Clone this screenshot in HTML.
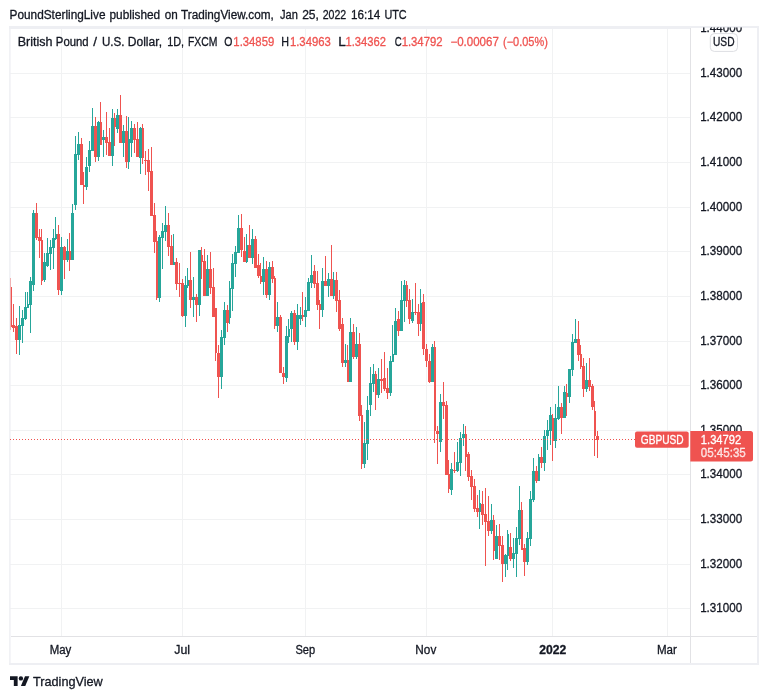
<!DOCTYPE html>
<html lang="en"><head><meta charset="utf-8"><title>GBPUSD chart</title>
<style>html,body{margin:0;padding:0;background:#fff}body{width:768px;height:699px;overflow:hidden}text{white-space:pre;font-family:"Liberation Sans",sans-serif;paint-order:stroke;stroke-width:0.3px;stroke-linejoin:round}</style>
</head><body>
<svg width="768" height="699" viewBox="0 0 768 699" style="display:block">
<rect width="768" height="699" fill="#fff"/>
<g fill="#f1f2f3" shape-rendering="crispEdges"><rect x="61" y="28" width="1" height="608"/><rect x="182" y="28" width="1" height="608"/><rect x="305" y="28" width="1" height="608"/><rect x="426" y="28" width="1" height="608"/><rect x="552" y="28" width="1" height="608"/><rect x="667" y="28" width="1" height="608"/><rect x="10" y="73" width="681" height="1"/><rect x="10" y="117" width="681" height="1"/><rect x="10" y="162" width="681" height="1"/><rect x="10" y="207" width="681" height="1"/><rect x="10" y="251" width="681" height="1"/><rect x="10" y="296" width="681" height="1"/><rect x="10" y="341" width="681" height="1"/><rect x="10" y="385" width="681" height="1"/><rect x="10" y="430" width="681" height="1"/><rect x="10" y="474" width="681" height="1"/><rect x="10" y="519" width="681" height="1"/><rect x="10" y="564" width="681" height="1"/><rect x="10" y="608" width="681" height="1"/></g>
<clipPath id="cc"><rect x="10" y="29" width="680" height="607"/></clipPath><g clip-path="url(#cc)"><g fill="#ef5350" shape-rendering="crispEdges"><rect x="10" y="278" width="1" height="9"/><rect x="10" y="327" width="1" height="3"/><rect x="9" y="287" width="3" height="40"/><rect x="13" y="304" width="1" height="21"/><rect x="13" y="328" width="1" height="4"/><rect x="12" y="325" width="3" height="3"/><rect x="16" y="318" width="1" height="8"/><rect x="16" y="340" width="1" height="14"/><rect x="15" y="326" width="3" height="14"/><rect x="36" y="203" width="1" height="10"/><rect x="36" y="238" width="1" height="2"/><rect x="35" y="213" width="3" height="25"/><rect x="39" y="229" width="1" height="8"/><rect x="39" y="241" width="1" height="17"/><rect x="38" y="237" width="3" height="4"/><rect x="41" y="229" width="1" height="11"/><rect x="41" y="281" width="1" height="4"/><rect x="41" y="240" width="2" height="41"/><rect x="58" y="225" width="1" height="9"/><rect x="58" y="290" width="1" height="5"/><rect x="57" y="234" width="3" height="56"/><rect x="64" y="246" width="1" height="1"/><rect x="64" y="260" width="1" height="19"/><rect x="63" y="247" width="3" height="13"/><rect x="69" y="233" width="1" height="18"/><rect x="69" y="260" width="1" height="11"/><rect x="69" y="251" width="2" height="9"/><rect x="81" y="138" width="1" height="6"/><rect x="80" y="144" width="3" height="41"/><rect x="83" y="172" width="1" height="13"/><rect x="83" y="187" width="1" height="17"/><rect x="83" y="185" width="2" height="2"/><rect x="95" y="117" width="1" height="9"/><rect x="95" y="157" width="1" height="5"/><rect x="94" y="126" width="3" height="31"/><rect x="100" y="102" width="1" height="20"/><rect x="100" y="122" width="2" height="23"/><rect x="106" y="112" width="1" height="25"/><rect x="106" y="143" width="1" height="12"/><rect x="105" y="137" width="3" height="6"/><rect x="109" y="128" width="1" height="14"/><rect x="108" y="142" width="3" height="14"/><rect x="114" y="113" width="1" height="5"/><rect x="114" y="127" width="1" height="19"/><rect x="114" y="118" width="2" height="9"/><rect x="120" y="95" width="1" height="20"/><rect x="119" y="115" width="3" height="28"/><rect x="126" y="116" width="1" height="15"/><rect x="126" y="162" width="1" height="6"/><rect x="125" y="131" width="3" height="31"/><rect x="134" y="124" width="1" height="4"/><rect x="134" y="140" width="1" height="13"/><rect x="133" y="128" width="3" height="12"/><rect x="137" y="122" width="1" height="17"/><rect x="136" y="139" width="3" height="18"/><rect x="142" y="124" width="1" height="4"/><rect x="142" y="158" width="1" height="6"/><rect x="142" y="128" width="2" height="30"/><rect x="145" y="151" width="1" height="9"/><rect x="145" y="161" width="1" height="14"/><rect x="144" y="160" width="3" height="1"/><rect x="148" y="149" width="1" height="11"/><rect x="148" y="172" width="1" height="19"/><rect x="147" y="160" width="3" height="12"/><rect x="151" y="147" width="1" height="24"/><rect x="150" y="171" width="3" height="45"/><rect x="154" y="203" width="1" height="12"/><rect x="154" y="242" width="1" height="11"/><rect x="153" y="215" width="3" height="27"/><rect x="156" y="231" width="1" height="10"/><rect x="156" y="298" width="1" height="2"/><rect x="156" y="241" width="2" height="57"/><rect x="168" y="213" width="1" height="12"/><rect x="168" y="247" width="1" height="9"/><rect x="167" y="225" width="3" height="22"/><rect x="171" y="235" width="1" height="11"/><rect x="170" y="246" width="3" height="19"/><rect x="176" y="258" width="1" height="4"/><rect x="176" y="284" width="1" height="6"/><rect x="175" y="262" width="3" height="22"/><rect x="179" y="263" width="1" height="20"/><rect x="179" y="284" width="1" height="13"/><rect x="178" y="283" width="3" height="1"/><rect x="182" y="279" width="1" height="4"/><rect x="182" y="316" width="1" height="1"/><rect x="181" y="283" width="3" height="33"/><rect x="190" y="252" width="1" height="28"/><rect x="190" y="300" width="1" height="8"/><rect x="189" y="280" width="3" height="20"/><rect x="196" y="294" width="1" height="3"/><rect x="196" y="305" width="1" height="17"/><rect x="195" y="297" width="3" height="8"/><rect x="201" y="247" width="1" height="8"/><rect x="201" y="262" width="1" height="17"/><rect x="201" y="255" width="2" height="7"/><rect x="204" y="249" width="1" height="12"/><rect x="203" y="261" width="3" height="35"/><rect x="210" y="252" width="1" height="17"/><rect x="210" y="288" width="1" height="6"/><rect x="209" y="269" width="3" height="19"/><rect x="213" y="268" width="1" height="19"/><rect x="212" y="287" width="3" height="30"/><rect x="215" y="353" width="1" height="8"/><rect x="215" y="308" width="2" height="45"/><rect x="218" y="345" width="1" height="8"/><rect x="218" y="377" width="1" height="21"/><rect x="217" y="353" width="3" height="24"/><rect x="227" y="305" width="1" height="5"/><rect x="227" y="323" width="1" height="9"/><rect x="226" y="310" width="3" height="13"/><rect x="241" y="214" width="1" height="14"/><rect x="241" y="250" width="1" height="7"/><rect x="240" y="228" width="3" height="22"/><rect x="244" y="237" width="1" height="14"/><rect x="243" y="251" width="3" height="11"/><rect x="249" y="225" width="1" height="20"/><rect x="248" y="245" width="3" height="13"/><rect x="255" y="236" width="1" height="3"/><rect x="254" y="239" width="3" height="29"/><rect x="258" y="254" width="1" height="11"/><rect x="258" y="276" width="1" height="2"/><rect x="257" y="265" width="3" height="11"/><rect x="260" y="263" width="1" height="13"/><rect x="260" y="282" width="1" height="2"/><rect x="260" y="276" width="2" height="6"/><rect x="266" y="261" width="1" height="8"/><rect x="266" y="295" width="1" height="3"/><rect x="265" y="269" width="3" height="26"/><rect x="272" y="261" width="1" height="6"/><rect x="272" y="279" width="1" height="4"/><rect x="271" y="267" width="3" height="12"/><rect x="274" y="276" width="1" height="2"/><rect x="274" y="326" width="1" height="3"/><rect x="274" y="278" width="2" height="48"/><rect x="280" y="315" width="1" height="2"/><rect x="279" y="317" width="3" height="56"/><rect x="283" y="367" width="1" height="6"/><rect x="283" y="377" width="1" height="7"/><rect x="282" y="373" width="3" height="4"/><rect x="294" y="310" width="1" height="3"/><rect x="294" y="342" width="1" height="3"/><rect x="293" y="313" width="3" height="29"/><rect x="302" y="292" width="1" height="23"/><rect x="302" y="317" width="1" height="4"/><rect x="302" y="315" width="2" height="2"/><rect x="314" y="265" width="1" height="6"/><rect x="314" y="284" width="1" height="4"/><rect x="313" y="271" width="3" height="13"/><rect x="317" y="271" width="1" height="12"/><rect x="317" y="305" width="1" height="5"/><rect x="316" y="283" width="3" height="22"/><rect x="319" y="300" width="1" height="4"/><rect x="319" y="310" width="1" height="19"/><rect x="319" y="304" width="2" height="6"/><rect x="325" y="256" width="1" height="25"/><rect x="324" y="281" width="3" height="5"/><rect x="331" y="245" width="1" height="34"/><rect x="330" y="279" width="3" height="17"/><rect x="336" y="272" width="1" height="8"/><rect x="336" y="301" width="1" height="11"/><rect x="335" y="280" width="3" height="21"/><rect x="339" y="290" width="1" height="10"/><rect x="339" y="329" width="1" height="2"/><rect x="338" y="300" width="3" height="29"/><rect x="342" y="318" width="1" height="6"/><rect x="342" y="363" width="1" height="4"/><rect x="341" y="324" width="3" height="39"/><rect x="347" y="345" width="1" height="15"/><rect x="347" y="360" width="2" height="22"/><rect x="353" y="324" width="1" height="8"/><rect x="353" y="357" width="1" height="2"/><rect x="352" y="332" width="3" height="25"/><rect x="359" y="333" width="1" height="11"/><rect x="359" y="416" width="1" height="5"/><rect x="358" y="344" width="3" height="72"/><rect x="361" y="405" width="1" height="10"/><rect x="361" y="464" width="1" height="5"/><rect x="361" y="415" width="2" height="49"/><rect x="375" y="371" width="1" height="3"/><rect x="375" y="395" width="1" height="15"/><rect x="375" y="374" width="2" height="21"/><rect x="381" y="359" width="1" height="20"/><rect x="381" y="381" width="1" height="12"/><rect x="380" y="379" width="3" height="2"/><rect x="384" y="352" width="1" height="26"/><rect x="384" y="389" width="1" height="2"/><rect x="383" y="378" width="3" height="11"/><rect x="387" y="368" width="1" height="20"/><rect x="387" y="393" width="1" height="6"/><rect x="386" y="388" width="3" height="5"/><rect x="398" y="311" width="1" height="8"/><rect x="398" y="331" width="1" height="5"/><rect x="397" y="319" width="3" height="12"/><rect x="406" y="281" width="1" height="4"/><rect x="406" y="301" width="1" height="6"/><rect x="406" y="285" width="2" height="16"/><rect x="409" y="289" width="1" height="11"/><rect x="409" y="319" width="1" height="5"/><rect x="408" y="300" width="3" height="19"/><rect x="415" y="283" width="1" height="29"/><rect x="415" y="313" width="1" height="2"/><rect x="414" y="312" width="3" height="1"/><rect x="418" y="304" width="1" height="8"/><rect x="418" y="324" width="1" height="12"/><rect x="417" y="312" width="3" height="12"/><rect x="423" y="294" width="1" height="8"/><rect x="423" y="349" width="1" height="6"/><rect x="422" y="302" width="3" height="47"/><rect x="426" y="344" width="1" height="5"/><rect x="426" y="361" width="1" height="6"/><rect x="425" y="349" width="3" height="12"/><rect x="429" y="354" width="1" height="7"/><rect x="429" y="382" width="1" height="1"/><rect x="428" y="361" width="3" height="21"/><rect x="434" y="341" width="1" height="6"/><rect x="434" y="431" width="1" height="12"/><rect x="434" y="347" width="2" height="84"/><rect x="437" y="426" width="1" height="5"/><rect x="437" y="434" width="1" height="30"/><rect x="436" y="431" width="3" height="3"/><rect x="443" y="382" width="1" height="20"/><rect x="443" y="406" width="1" height="13"/><rect x="442" y="402" width="3" height="4"/><rect x="446" y="401" width="1" height="4"/><rect x="445" y="405" width="3" height="70"/><rect x="448" y="460" width="1" height="14"/><rect x="448" y="489" width="1" height="4"/><rect x="448" y="474" width="2" height="15"/><rect x="454" y="452" width="1" height="18"/><rect x="454" y="471" width="1" height="2"/><rect x="453" y="470" width="3" height="1"/><rect x="465" y="426" width="1" height="8"/><rect x="465" y="457" width="1" height="14"/><rect x="465" y="434" width="2" height="23"/><rect x="468" y="452" width="1" height="2"/><rect x="468" y="477" width="1" height="4"/><rect x="467" y="454" width="3" height="23"/><rect x="471" y="470" width="1" height="6"/><rect x="471" y="487" width="1" height="13"/><rect x="470" y="476" width="3" height="11"/><rect x="474" y="479" width="1" height="7"/><rect x="474" y="509" width="1" height="3"/><rect x="473" y="486" width="3" height="23"/><rect x="477" y="495" width="1" height="13"/><rect x="477" y="512" width="1" height="5"/><rect x="476" y="508" width="3" height="4"/><rect x="482" y="491" width="1" height="13"/><rect x="482" y="515" width="1" height="10"/><rect x="481" y="504" width="3" height="11"/><rect x="485" y="488" width="1" height="26"/><rect x="485" y="522" width="1" height="44"/><rect x="484" y="514" width="3" height="8"/><rect x="488" y="496" width="1" height="25"/><rect x="488" y="531" width="1" height="5"/><rect x="487" y="521" width="3" height="10"/><rect x="493" y="515" width="1" height="5"/><rect x="493" y="551" width="1" height="9"/><rect x="493" y="520" width="2" height="31"/><rect x="499" y="524" width="1" height="12"/><rect x="499" y="546" width="1" height="14"/><rect x="498" y="536" width="3" height="10"/><rect x="502" y="536" width="1" height="9"/><rect x="502" y="564" width="1" height="18"/><rect x="501" y="545" width="3" height="19"/><rect x="510" y="533" width="1" height="14"/><rect x="510" y="559" width="1" height="2"/><rect x="509" y="547" width="3" height="12"/><rect x="521" y="502" width="1" height="8"/><rect x="521" y="510" width="2" height="40"/><rect x="524" y="544" width="1" height="4"/><rect x="524" y="562" width="1" height="14"/><rect x="523" y="548" width="3" height="14"/><rect x="536" y="466" width="1" height="5"/><rect x="536" y="481" width="1" height="2"/><rect x="535" y="471" width="3" height="10"/><rect x="541" y="447" width="1" height="10"/><rect x="541" y="463" width="1" height="5"/><rect x="540" y="457" width="3" height="6"/><rect x="552" y="414" width="1" height="4"/><rect x="552" y="441" width="1" height="20"/><rect x="552" y="418" width="2" height="23"/><rect x="561" y="403" width="1" height="4"/><rect x="561" y="418" width="1" height="16"/><rect x="560" y="407" width="3" height="11"/><rect x="566" y="384" width="1" height="9"/><rect x="566" y="397" width="1" height="19"/><rect x="566" y="393" width="2" height="4"/><rect x="578" y="321" width="1" height="18"/><rect x="578" y="355" width="1" height="6"/><rect x="577" y="339" width="3" height="16"/><rect x="580" y="345" width="1" height="9"/><rect x="580" y="367" width="1" height="2"/><rect x="580" y="354" width="2" height="13"/><rect x="583" y="358" width="1" height="8"/><rect x="583" y="389" width="1" height="8"/><rect x="582" y="366" width="3" height="23"/><rect x="589" y="358" width="1" height="22"/><rect x="589" y="387" width="1" height="4"/><rect x="588" y="380" width="3" height="7"/><rect x="592" y="384" width="1" height="2"/><rect x="592" y="407" width="1" height="3"/><rect x="591" y="386" width="3" height="21"/><rect x="594" y="401" width="1" height="10"/><rect x="594" y="436" width="1" height="20"/><rect x="594" y="411" width="2" height="25"/><rect x="597" y="431" width="1" height="5"/><rect x="597" y="440" width="1" height="18"/><rect x="596" y="436" width="3" height="4"/></g><g fill="#26a69a" shape-rendering="crispEdges"><rect x="19" y="306" width="1" height="19"/><rect x="19" y="340" width="1" height="15"/><rect x="18" y="325" width="3" height="15"/><rect x="22" y="310" width="1" height="8"/><rect x="22" y="326" width="1" height="17"/><rect x="21" y="318" width="3" height="8"/><rect x="25" y="292" width="1" height="15"/><rect x="25" y="319" width="1" height="1"/><rect x="24" y="307" width="3" height="12"/><rect x="27" y="292" width="1" height="12"/><rect x="27" y="304" width="2" height="4"/><rect x="30" y="277" width="1" height="4"/><rect x="30" y="305" width="1" height="28"/><rect x="29" y="281" width="3" height="24"/><rect x="33" y="210" width="1" height="3"/><rect x="33" y="285" width="1" height="6"/><rect x="32" y="213" width="3" height="72"/><rect x="44" y="253" width="1" height="9"/><rect x="44" y="280" width="1" height="2"/><rect x="43" y="262" width="3" height="18"/><rect x="47" y="238" width="1" height="15"/><rect x="47" y="266" width="1" height="1"/><rect x="46" y="253" width="3" height="13"/><rect x="50" y="240" width="1" height="7"/><rect x="50" y="254" width="1" height="16"/><rect x="49" y="247" width="3" height="7"/><rect x="53" y="229" width="1" height="9"/><rect x="53" y="248" width="1" height="21"/><rect x="52" y="238" width="3" height="10"/><rect x="55" y="217" width="1" height="17"/><rect x="55" y="239" width="1" height="1"/><rect x="55" y="234" width="2" height="5"/><rect x="61" y="237" width="1" height="10"/><rect x="61" y="291" width="1" height="4"/><rect x="60" y="247" width="3" height="44"/><rect x="67" y="239" width="1" height="12"/><rect x="67" y="260" width="1" height="2"/><rect x="66" y="251" width="3" height="9"/><rect x="72" y="204" width="1" height="9"/><rect x="71" y="213" width="3" height="47"/><rect x="75" y="136" width="1" height="18"/><rect x="75" y="205" width="1" height="5"/><rect x="74" y="154" width="3" height="51"/><rect x="78" y="132" width="1" height="12"/><rect x="78" y="155" width="1" height="5"/><rect x="77" y="144" width="3" height="11"/><rect x="86" y="157" width="1" height="10"/><rect x="86" y="187" width="1" height="3"/><rect x="85" y="167" width="3" height="20"/><rect x="89" y="141" width="1" height="9"/><rect x="89" y="166" width="1" height="6"/><rect x="88" y="150" width="3" height="16"/><rect x="92" y="108" width="1" height="18"/><rect x="91" y="126" width="3" height="25"/><rect x="98" y="121" width="1" height="1"/><rect x="98" y="157" width="1" height="4"/><rect x="97" y="122" width="3" height="35"/><rect x="103" y="130" width="1" height="7"/><rect x="103" y="140" width="1" height="17"/><rect x="102" y="137" width="3" height="3"/><rect x="112" y="109" width="1" height="9"/><rect x="112" y="156" width="1" height="10"/><rect x="111" y="118" width="3" height="38"/><rect x="117" y="109" width="1" height="6"/><rect x="117" y="129" width="1" height="4"/><rect x="116" y="115" width="3" height="14"/><rect x="123" y="125" width="1" height="6"/><rect x="123" y="143" width="1" height="14"/><rect x="122" y="131" width="3" height="12"/><rect x="128" y="117" width="1" height="22"/><rect x="128" y="162" width="1" height="7"/><rect x="128" y="139" width="2" height="23"/><rect x="131" y="121" width="1" height="7"/><rect x="131" y="143" width="1" height="14"/><rect x="130" y="128" width="3" height="15"/><rect x="140" y="127" width="1" height="1"/><rect x="140" y="158" width="1" height="16"/><rect x="139" y="128" width="3" height="30"/><rect x="159" y="235" width="1" height="2"/><rect x="159" y="298" width="1" height="4"/><rect x="158" y="237" width="3" height="61"/><rect x="162" y="223" width="1" height="8"/><rect x="162" y="238" width="1" height="31"/><rect x="161" y="231" width="3" height="7"/><rect x="165" y="206" width="1" height="19"/><rect x="165" y="232" width="1" height="9"/><rect x="164" y="225" width="3" height="7"/><rect x="173" y="234" width="1" height="28"/><rect x="173" y="262" width="2" height="3"/><rect x="185" y="276" width="1" height="9"/><rect x="185" y="316" width="1" height="11"/><rect x="184" y="285" width="3" height="31"/><rect x="187" y="268" width="1" height="12"/><rect x="187" y="286" width="1" height="2"/><rect x="187" y="280" width="2" height="6"/><rect x="193" y="277" width="1" height="20"/><rect x="193" y="300" width="1" height="17"/><rect x="192" y="297" width="3" height="3"/><rect x="199" y="305" width="1" height="11"/><rect x="198" y="250" width="3" height="55"/><rect x="207" y="255" width="1" height="14"/><rect x="206" y="269" width="3" height="27"/><rect x="221" y="330" width="1" height="7"/><rect x="221" y="377" width="1" height="12"/><rect x="220" y="337" width="3" height="40"/><rect x="224" y="302" width="1" height="8"/><rect x="224" y="338" width="1" height="7"/><rect x="223" y="310" width="3" height="28"/><rect x="229" y="281" width="1" height="7"/><rect x="229" y="318" width="1" height="6"/><rect x="229" y="288" width="2" height="30"/><rect x="232" y="254" width="1" height="9"/><rect x="232" y="289" width="1" height="22"/><rect x="231" y="263" width="3" height="26"/><rect x="235" y="246" width="1" height="6"/><rect x="235" y="264" width="1" height="13"/><rect x="234" y="252" width="3" height="12"/><rect x="238" y="215" width="1" height="13"/><rect x="237" y="228" width="3" height="25"/><rect x="246" y="234" width="1" height="11"/><rect x="246" y="262" width="1" height="1"/><rect x="246" y="245" width="2" height="17"/><rect x="252" y="229" width="1" height="10"/><rect x="252" y="258" width="1" height="6"/><rect x="251" y="239" width="3" height="19"/><rect x="263" y="257" width="1" height="12"/><rect x="263" y="282" width="1" height="13"/><rect x="262" y="269" width="3" height="13"/><rect x="269" y="262" width="1" height="5"/><rect x="269" y="295" width="1" height="5"/><rect x="268" y="267" width="3" height="28"/><rect x="277" y="302" width="1" height="15"/><rect x="277" y="326" width="1" height="6"/><rect x="276" y="317" width="3" height="9"/><rect x="286" y="326" width="1" height="10"/><rect x="286" y="378" width="1" height="4"/><rect x="285" y="336" width="3" height="42"/><rect x="288" y="319" width="1" height="10"/><rect x="288" y="337" width="1" height="6"/><rect x="288" y="329" width="2" height="8"/><rect x="291" y="311" width="1" height="2"/><rect x="291" y="329" width="1" height="13"/><rect x="290" y="313" width="3" height="16"/><rect x="297" y="304" width="1" height="11"/><rect x="297" y="342" width="1" height="8"/><rect x="296" y="315" width="3" height="27"/><rect x="300" y="307" width="1" height="8"/><rect x="300" y="319" width="1" height="6"/><rect x="299" y="315" width="3" height="4"/><rect x="305" y="297" width="1" height="13"/><rect x="305" y="317" width="1" height="10"/><rect x="304" y="310" width="3" height="7"/><rect x="308" y="278" width="1" height="4"/><rect x="307" y="282" width="3" height="29"/><rect x="311" y="255" width="1" height="20"/><rect x="311" y="283" width="1" height="5"/><rect x="310" y="275" width="3" height="8"/><rect x="322" y="268" width="1" height="13"/><rect x="322" y="310" width="1" height="7"/><rect x="321" y="281" width="3" height="29"/><rect x="328" y="273" width="1" height="6"/><rect x="328" y="286" width="1" height="11"/><rect x="327" y="279" width="3" height="7"/><rect x="333" y="272" width="1" height="8"/><rect x="333" y="296" width="1" height="3"/><rect x="333" y="280" width="2" height="16"/><rect x="345" y="344" width="1" height="16"/><rect x="345" y="363" width="1" height="4"/><rect x="344" y="360" width="3" height="3"/><rect x="350" y="318" width="1" height="14"/><rect x="349" y="332" width="3" height="50"/><rect x="356" y="327" width="1" height="17"/><rect x="356" y="357" width="1" height="2"/><rect x="355" y="344" width="3" height="13"/><rect x="364" y="422" width="1" height="21"/><rect x="364" y="464" width="1" height="4"/><rect x="363" y="443" width="3" height="21"/><rect x="367" y="396" width="1" height="14"/><rect x="367" y="444" width="1" height="16"/><rect x="366" y="410" width="3" height="34"/><rect x="370" y="367" width="1" height="16"/><rect x="370" y="405" width="1" height="11"/><rect x="369" y="383" width="3" height="22"/><rect x="373" y="364" width="1" height="10"/><rect x="373" y="384" width="1" height="8"/><rect x="372" y="374" width="3" height="10"/><rect x="378" y="368" width="1" height="11"/><rect x="378" y="395" width="1" height="3"/><rect x="377" y="379" width="3" height="16"/><rect x="390" y="356" width="1" height="5"/><rect x="390" y="393" width="1" height="3"/><rect x="389" y="361" width="3" height="32"/><rect x="392" y="325" width="1" height="29"/><rect x="392" y="354" width="2" height="8"/><rect x="395" y="308" width="1" height="13"/><rect x="394" y="321" width="3" height="34"/><rect x="401" y="281" width="1" height="19"/><rect x="400" y="300" width="3" height="31"/><rect x="404" y="280" width="1" height="5"/><rect x="404" y="301" width="1" height="21"/><rect x="403" y="285" width="3" height="16"/><rect x="412" y="299" width="1" height="13"/><rect x="412" y="321" width="1" height="2"/><rect x="411" y="312" width="3" height="9"/><rect x="420" y="289" width="1" height="14"/><rect x="420" y="324" width="1" height="7"/><rect x="420" y="303" width="2" height="21"/><rect x="432" y="344" width="1" height="3"/><rect x="431" y="347" width="3" height="35"/><rect x="440" y="394" width="1" height="8"/><rect x="440" y="442" width="1" height="10"/><rect x="439" y="402" width="3" height="40"/><rect x="451" y="463" width="1" height="6"/><rect x="451" y="490" width="1" height="5"/><rect x="450" y="469" width="3" height="21"/><rect x="457" y="442" width="1" height="20"/><rect x="457" y="471" width="1" height="1"/><rect x="456" y="462" width="3" height="9"/><rect x="460" y="432" width="1" height="6"/><rect x="460" y="463" width="1" height="13"/><rect x="459" y="438" width="3" height="25"/><rect x="463" y="424" width="1" height="10"/><rect x="463" y="438" width="1" height="8"/><rect x="462" y="434" width="3" height="4"/><rect x="479" y="490" width="1" height="13"/><rect x="479" y="512" width="1" height="17"/><rect x="479" y="503" width="2" height="9"/><rect x="491" y="504" width="1" height="16"/><rect x="491" y="531" width="1" height="3"/><rect x="490" y="520" width="3" height="11"/><rect x="496" y="525" width="1" height="11"/><rect x="495" y="536" width="3" height="23"/><rect x="505" y="554" width="1" height="1"/><rect x="505" y="564" width="1" height="13"/><rect x="504" y="555" width="3" height="9"/><rect x="507" y="530" width="1" height="4"/><rect x="507" y="556" width="1" height="14"/><rect x="507" y="534" width="2" height="22"/><rect x="513" y="538" width="1" height="15"/><rect x="513" y="559" width="1" height="9"/><rect x="512" y="553" width="3" height="6"/><rect x="516" y="527" width="1" height="11"/><rect x="516" y="554" width="1" height="23"/><rect x="515" y="538" width="3" height="16"/><rect x="519" y="486" width="1" height="24"/><rect x="519" y="539" width="1" height="6"/><rect x="518" y="510" width="3" height="29"/><rect x="527" y="532" width="1" height="6"/><rect x="527" y="562" width="1" height="3"/><rect x="526" y="538" width="3" height="24"/><rect x="530" y="491" width="1" height="8"/><rect x="530" y="539" width="1" height="7"/><rect x="529" y="499" width="3" height="40"/><rect x="533" y="458" width="1" height="13"/><rect x="533" y="500" width="1" height="2"/><rect x="532" y="471" width="3" height="29"/><rect x="538" y="454" width="1" height="3"/><rect x="538" y="457" width="2" height="24"/><rect x="544" y="430" width="1" height="6"/><rect x="544" y="463" width="1" height="8"/><rect x="543" y="436" width="3" height="27"/><rect x="547" y="420" width="1" height="10"/><rect x="547" y="436" width="1" height="14"/><rect x="546" y="430" width="3" height="6"/><rect x="550" y="407" width="1" height="8"/><rect x="550" y="431" width="1" height="14"/><rect x="549" y="415" width="3" height="16"/><rect x="555" y="404" width="1" height="14"/><rect x="555" y="441" width="1" height="7"/><rect x="554" y="418" width="3" height="23"/><rect x="558" y="386" width="1" height="21"/><rect x="558" y="419" width="1" height="1"/><rect x="557" y="407" width="3" height="12"/><rect x="564" y="386" width="1" height="6"/><rect x="563" y="392" width="3" height="26"/><rect x="569" y="397" width="1" height="6"/><rect x="568" y="369" width="3" height="28"/><rect x="572" y="334" width="1" height="8"/><rect x="572" y="370" width="1" height="6"/><rect x="571" y="342" width="3" height="28"/><rect x="575" y="319" width="1" height="20"/><rect x="574" y="339" width="3" height="4"/><rect x="586" y="363" width="1" height="17"/><rect x="586" y="389" width="1" height="3"/><rect x="585" y="380" width="3" height="9"/></g></g>
<g fill="#eeeff3" shape-rendering="crispEdges"><rect x="9" y="26" width="750" height="2"/><rect x="9" y="28" width="681" height="1"/><rect x="9" y="663" width="750" height="2"/><rect x="757" y="26" width="2" height="639"/></g><rect x="9.2" y="26" width="1.4" height="639" fill="#eeeff3"/><g fill="#e2e2e5" shape-rendering="crispEdges"><rect x="690" y="28" width="1" height="635"/><rect x="11" y="636" width="746" height="1"/></g>
<text y="18.6" font-size="12"><tspan x="9.6" textLength="95.87" lengthAdjust="spacingAndGlyphs" fill="#131722" stroke="#131722">PoundSterlingLive</tspan> <tspan x="109.52" textLength="50.65" lengthAdjust="spacingAndGlyphs" fill="#131722" stroke="#131722">published</tspan> <tspan x="164.8" textLength="13.02" lengthAdjust="spacingAndGlyphs" fill="#131722" stroke="#131722">on</tspan> <tspan x="181.0" textLength="92.73" lengthAdjust="spacingAndGlyphs" fill="#131722" stroke="#131722">TradingView.com,</tspan> <tspan x="280.0" textLength="17.82" lengthAdjust="spacingAndGlyphs" fill="#131722" stroke="#131722">Jan</tspan> <tspan x="302.17" textLength="16.75" lengthAdjust="spacingAndGlyphs" fill="#131722" stroke="#131722">25,</tspan> <tspan x="322.7" textLength="23.55" lengthAdjust="spacingAndGlyphs" fill="#131722" stroke="#131722">2022</tspan> <tspan x="350.96" textLength="29.19" lengthAdjust="spacingAndGlyphs" fill="#131722" stroke="#131722">16:14</tspan> <tspan x="384.39" textLength="22.36" lengthAdjust="spacingAndGlyphs" fill="#131722" stroke="#131722">UTC</tspan></text>
<text y="46" font-size="12"><tspan x="17.71" textLength="34.77" lengthAdjust="spacingAndGlyphs" fill="#131722" stroke="#131722">British</tspan> <tspan x="55.83" textLength="32.81" lengthAdjust="spacingAndGlyphs" fill="#131722" stroke="#131722">Pound</tspan> <tspan x="93.2" textLength="3.74" lengthAdjust="spacingAndGlyphs" fill="#131722" stroke="#131722">/</tspan> <tspan x="101.96" textLength="22.57" lengthAdjust="spacingAndGlyphs" fill="#131722" stroke="#131722">U.S.</tspan> <tspan x="127.76" textLength="34.24" lengthAdjust="spacingAndGlyphs" fill="#131722" stroke="#131722">Dollar,</tspan> <tspan x="167.13" textLength="16.9" lengthAdjust="spacingAndGlyphs" fill="#131722" stroke="#131722">1D,</tspan> <tspan x="187.88" textLength="29.41" lengthAdjust="spacingAndGlyphs" fill="#131722" stroke="#131722">FXCM</tspan> <tspan x="224.2" textLength="8.14" lengthAdjust="spacingAndGlyphs" fill="#131722" stroke="#131722">O</tspan> <tspan x="233.35" textLength="40.9" lengthAdjust="spacingAndGlyphs" fill="#ef5350" stroke="#ef5350">1.34859</tspan> <tspan x="281.14" textLength="7.74" lengthAdjust="spacingAndGlyphs" fill="#131722" stroke="#131722">H</tspan> <tspan x="289.95" textLength="40.89" lengthAdjust="spacingAndGlyphs" fill="#ef5350" stroke="#ef5350">1.34963</tspan> <tspan x="338.33" textLength="7.06" lengthAdjust="spacingAndGlyphs" fill="#131722" stroke="#131722">L</tspan> <tspan x="345.46" textLength="40.43" lengthAdjust="spacingAndGlyphs" fill="#ef5350" stroke="#ef5350">1.34362</tspan> <tspan x="394.7" textLength="6.95" lengthAdjust="spacingAndGlyphs" fill="#131722" stroke="#131722">C</tspan> <tspan x="401.65" textLength="40.9" lengthAdjust="spacingAndGlyphs" fill="#ef5350" stroke="#ef5350">1.34792</tspan> <tspan x="450.45" textLength="48.37" lengthAdjust="spacingAndGlyphs" fill="#ef5350" stroke="#ef5350">−0.00067</tspan> <tspan x="503.04" textLength="44.84" lengthAdjust="spacingAndGlyphs" fill="#ef5350" stroke="#ef5350">(−0.05%)</tspan></text>
<clipPath id="pc"><rect x="691" y="27.6" width="66" height="608.4"/></clipPath>
<g clip-path="url(#pc)"><text x="700.14" y="31.5" font-size="12" fill="#131722" stroke="#131722" textLength="42.03" lengthAdjust="spacingAndGlyphs" stroke-width="0.15">1.44000</text><text x="700.14" y="76.5" font-size="12" fill="#131722" stroke="#131722" textLength="42.03" lengthAdjust="spacingAndGlyphs" stroke-width="0.15">1.43000</text><text x="700.14" y="120.5" font-size="12" fill="#131722" stroke="#131722" textLength="42.03" lengthAdjust="spacingAndGlyphs" stroke-width="0.15">1.42000</text><text x="700.14" y="165.5" font-size="12" fill="#131722" stroke="#131722" textLength="42.03" lengthAdjust="spacingAndGlyphs" stroke-width="0.15">1.41000</text><text x="700.14" y="210.5" font-size="12" fill="#131722" stroke="#131722" textLength="42.03" lengthAdjust="spacingAndGlyphs" stroke-width="0.15">1.40000</text><text x="700.14" y="254.5" font-size="12" fill="#131722" stroke="#131722" textLength="42.03" lengthAdjust="spacingAndGlyphs" stroke-width="0.15">1.39000</text><text x="700.14" y="299.5" font-size="12" fill="#131722" stroke="#131722" textLength="42.03" lengthAdjust="spacingAndGlyphs" stroke-width="0.15">1.38000</text><text x="700.14" y="344.5" font-size="12" fill="#131722" stroke="#131722" textLength="42.03" lengthAdjust="spacingAndGlyphs" stroke-width="0.15">1.37000</text><text x="700.14" y="388.5" font-size="12" fill="#131722" stroke="#131722" textLength="42.03" lengthAdjust="spacingAndGlyphs" stroke-width="0.15">1.36000</text><text x="700.14" y="433.5" font-size="12" fill="#131722" stroke="#131722" textLength="42.03" lengthAdjust="spacingAndGlyphs" stroke-width="0.15">1.35000</text><text x="700.14" y="477.5" font-size="12" fill="#131722" stroke="#131722" textLength="42.03" lengthAdjust="spacingAndGlyphs" stroke-width="0.15">1.34000</text><text x="700.14" y="522.5" font-size="12" fill="#131722" stroke="#131722" textLength="42.03" lengthAdjust="spacingAndGlyphs" stroke-width="0.15">1.33000</text><text x="700.14" y="567.5" font-size="12" fill="#131722" stroke="#131722" textLength="42.03" lengthAdjust="spacingAndGlyphs" stroke-width="0.15">1.32000</text><text x="700.14" y="611.5" font-size="12" fill="#131722" stroke="#131722" textLength="42.03" lengthAdjust="spacingAndGlyphs" stroke-width="0.15">1.31000</text></g>
<rect x="710.3" y="33.6" width="27.2" height="17.8" rx="4" fill="#fff" stroke="#dddee2" stroke-width="1"/>
<text x="713.03" y="45.6" font-size="12" fill="#131722" stroke="#131722" textLength="21.5" lengthAdjust="spacingAndGlyphs" >USD</text>
<line x1="10" y1="439.5" x2="635" y2="439.5" stroke="#ef5350" stroke-width="1" stroke-dasharray="1 2" shape-rendering="crispEdges"/>
<rect x="635" y="431.4" width="53.7" height="16.3" rx="2" fill="#ef5350"/>
<path d="M690.3 431 H750.5 a2.5 2.5 0 0 1 2.5 2.5 V459 a2.5 2.5 0 0 1 -2.5 2.5 H690.3 Z" fill="#ef5350"/>
<text x="640.8" y="443.5" font-size="12" fill="#fff" stroke="#fff" textLength="42.9" lengthAdjust="spacingAndGlyphs" stroke-width="0.12">GBPUSD</text>
<text x="700.85" y="443.5" font-size="12" fill="#fff" stroke="#fff" textLength="40.38" lengthAdjust="spacingAndGlyphs" stroke-width="0.12">1.34792</text>
<text x="700.8" y="457.3" font-size="12" fill="#fff" stroke="#fff" textLength="44.99" lengthAdjust="spacingAndGlyphs" fill-opacity="0.72" stroke-width="0">05:45:35</text>
<text x="49.76" y="653.9" font-size="12" fill="#131722" stroke="#131722" textLength="21.57" lengthAdjust="spacingAndGlyphs" stroke-width="0.2">May</text>
<text x="174.25" y="653.9" font-size="12" fill="#131722" stroke="#131722" textLength="15.8" lengthAdjust="spacingAndGlyphs" stroke-width="0.2">Jul</text>
<text x="295.48" y="653.9" font-size="12" fill="#131722" stroke="#131722" textLength="19.71" lengthAdjust="spacingAndGlyphs" stroke-width="0.2">Sep</text>
<text x="415.36" y="653.9" font-size="12" fill="#131722" stroke="#131722" textLength="20.92" lengthAdjust="spacingAndGlyphs" stroke-width="0.2">Nov</text>
<text x="656.88" y="653.9" font-size="12" fill="#131722" stroke="#131722" textLength="19.92" lengthAdjust="spacingAndGlyphs" stroke-width="0.2">Mar</text>
<text x="539.25" y="653.9" font-size="12" fill="#131722" stroke="#131722" textLength="27.0" lengthAdjust="spacingAndGlyphs" font-weight="bold" >2022</text>
<g fill="#131722" transform="translate(10,674.05) scale(0.545)"><path d="M14 22H7V11H0V4h14v18z"/><circle cx="20" cy="8" r="4"/><path d="M28 22h-8l7.5-18h8L28 22z"/></g>
<text x="33.0" y="685.8" font-size="13" fill="#131722" stroke="#131722" textLength="69.75" lengthAdjust="spacingAndGlyphs" >TradingView</text>
</svg>
</body></html>
